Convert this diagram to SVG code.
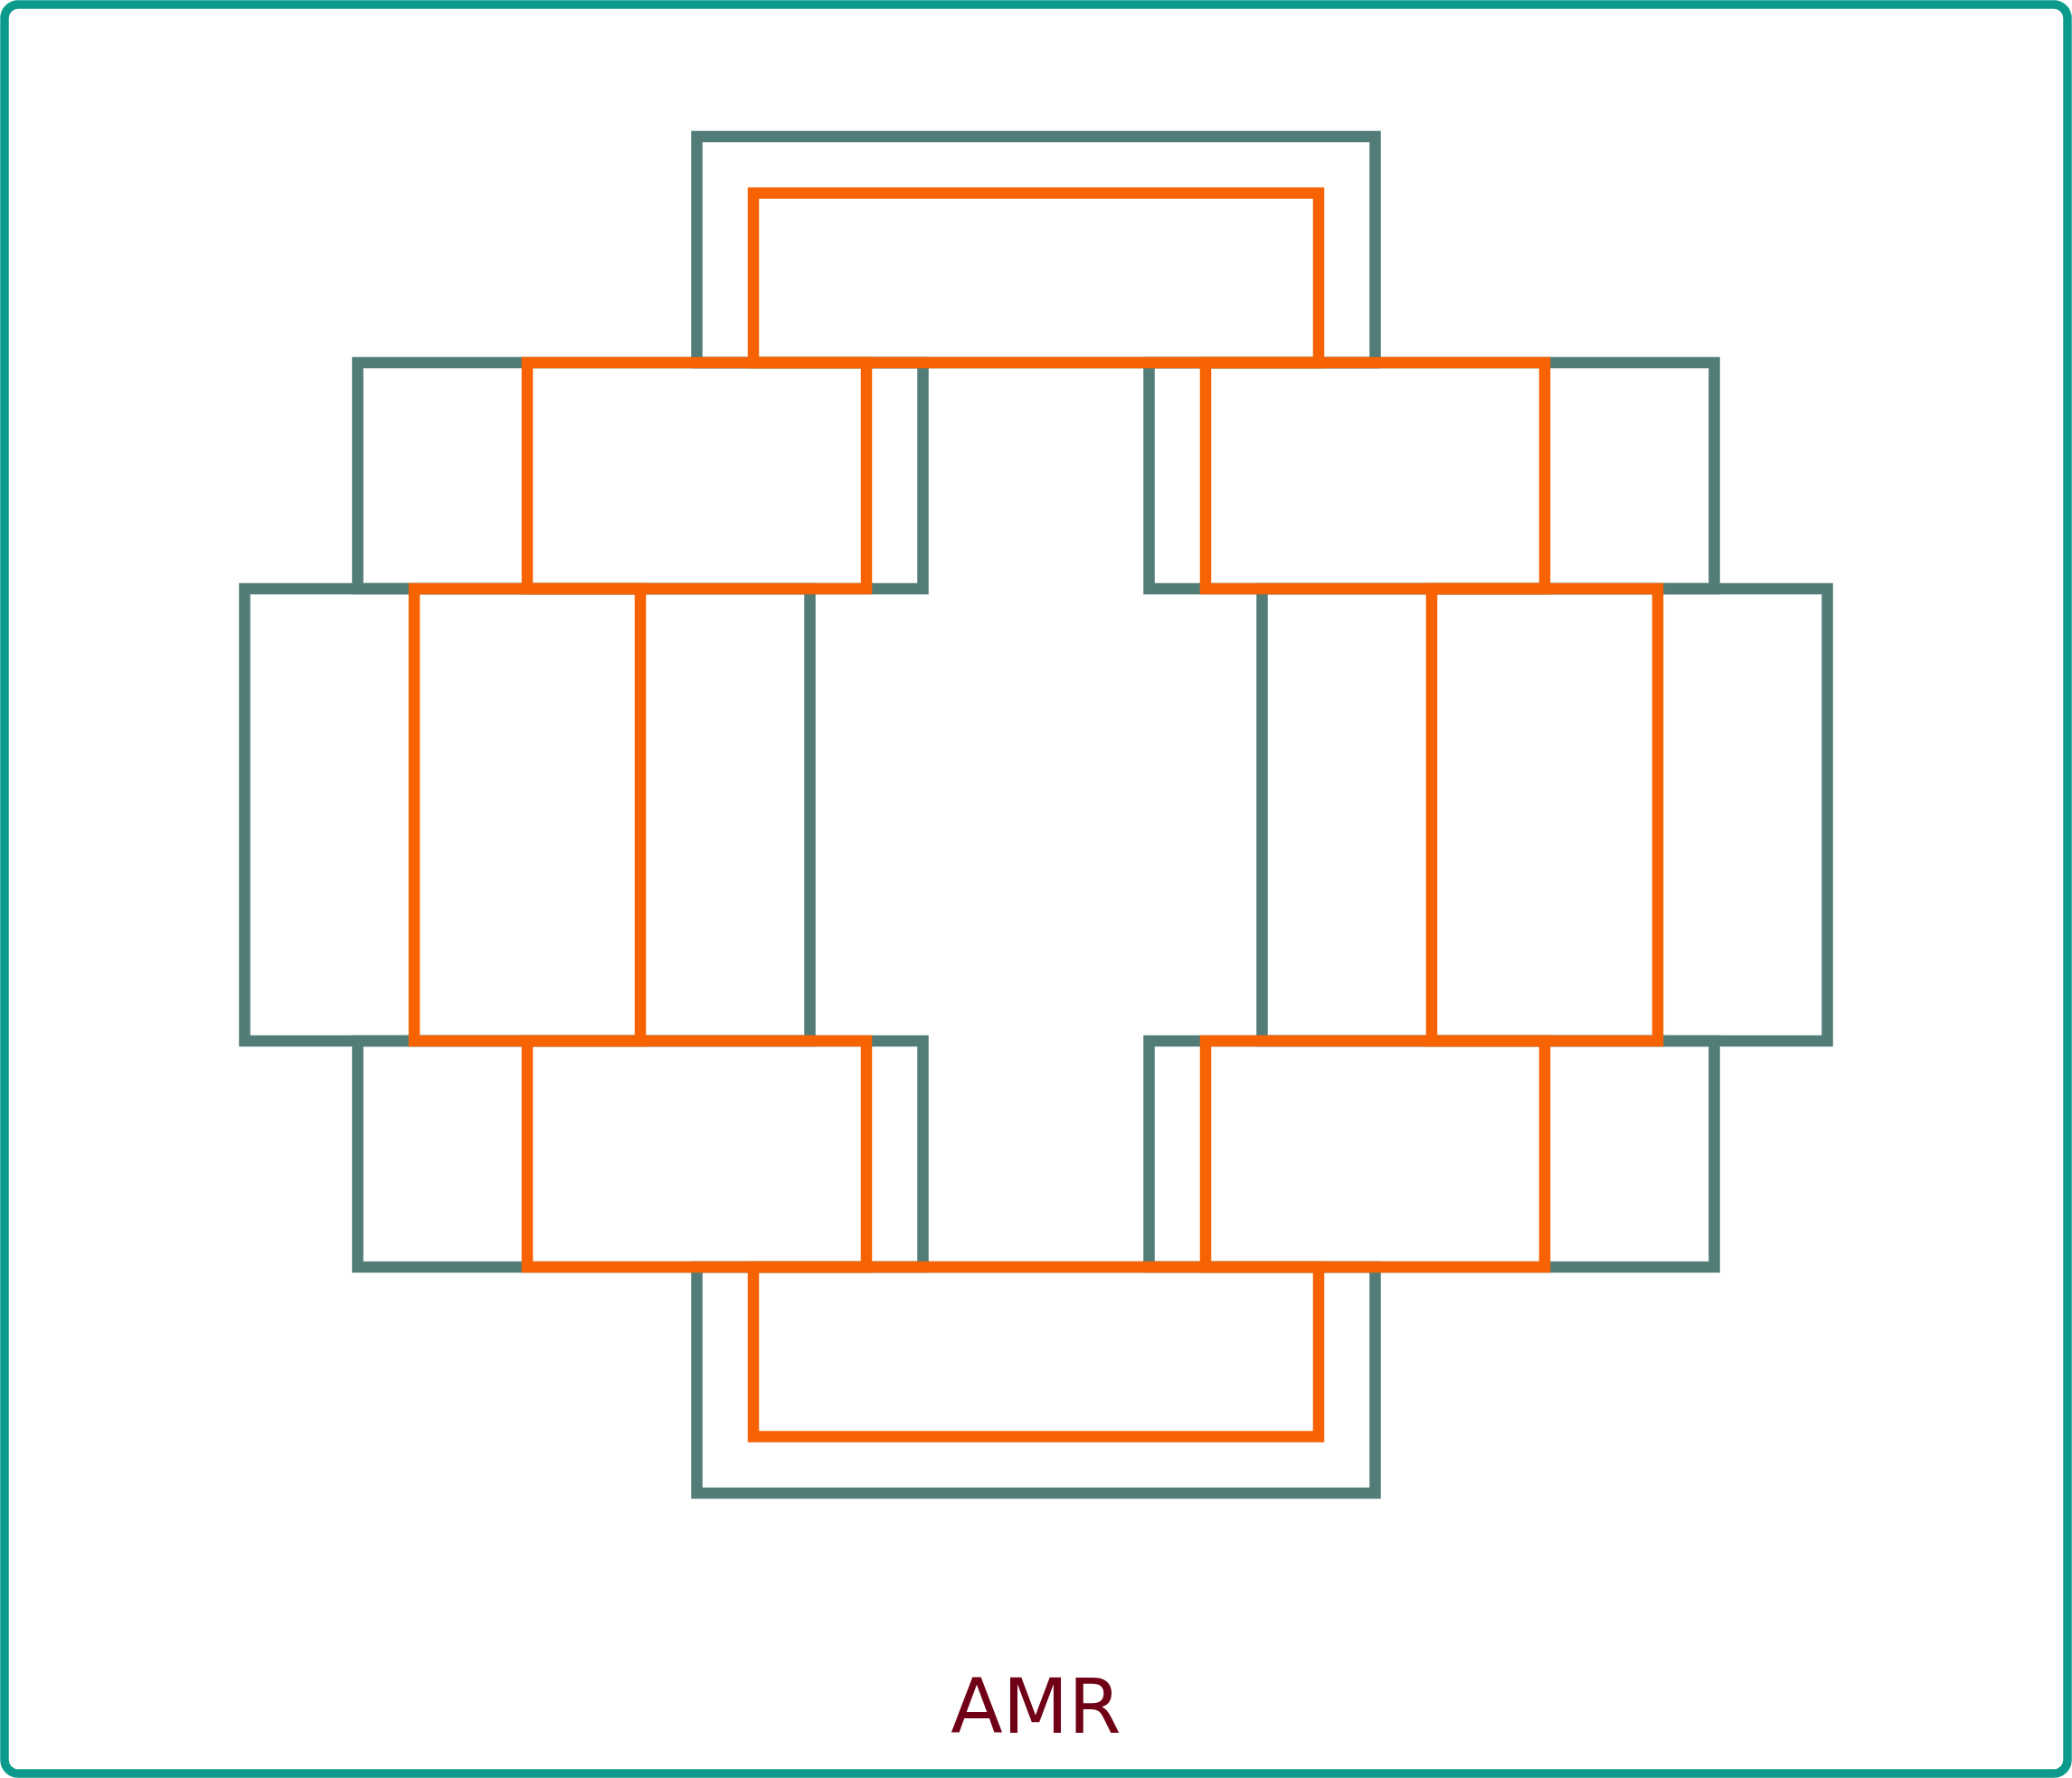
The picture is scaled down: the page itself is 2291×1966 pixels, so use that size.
<svg xmlns="http://www.w3.org/2000/svg" width="2291" height="1966" viewBox="0 0 2291 1966">
<style>
.g{fill:none;stroke:#527c77;stroke-width:12.5;stroke-linejoin:miter}
.o{fill:none;stroke:#f76303;stroke-width:12.5;stroke-linejoin:miter}
.lbl{font-family:"DejaVu Sans",sans-serif;font-size:84px;fill:#700016;text-anchor:middle}
</style>
<rect x="0" y="0" width="2291" height="1966" fill="#ffffff"/>
<rect id="frame" x="5" y="5" width="2281" height="1956" rx="15" ry="15" fill="none" stroke="#0b9a8b" stroke-width="9.5"/>
<g id="outer">
<g id="g-top"><rect class="g" x="770.5" y="151" width="750" height="250"/></g>
<g id="g-ul"><rect class="g" x="395.5" y="401" width="625" height="250"/></g>
<g id="g-ur"><rect class="g" x="1270.5" y="401" width="625" height="250"/></g>
<g id="g-l"><rect class="g" x="270.5" y="651" width="625" height="500"/></g>
<g id="g-r"><rect class="g" x="1395.5" y="651" width="625" height="500"/></g>
<g id="g-ll"><rect class="g" x="395.5" y="1151" width="625" height="250"/></g>
<g id="g-lr"><rect class="g" x="1270.5" y="1151" width="625" height="250"/></g>
<g id="g-bottom"><rect class="g" x="770.5" y="1401" width="750" height="250"/></g>
</g>
<g id="inner">
<g id="o-top"><rect class="o" x="833" y="213.5" width="625" height="187.5"/></g>
<g id="o-ul"><rect class="o" x="583" y="401" width="375" height="250"/></g>
<g id="o-ur"><rect class="o" x="1333" y="401" width="375" height="250"/></g>
<g id="o-l"><rect class="o" x="458" y="651" width="250" height="500"/></g>
<g id="o-r"><rect class="o" x="1583" y="651" width="250" height="500"/></g>
<g id="o-ll"><rect class="o" x="583" y="1151" width="375" height="250"/></g>
<g id="o-lr"><rect class="o" x="1333" y="1151" width="375" height="250"/></g>
<g id="o-bottom"><rect class="o" x="833" y="1401" width="625" height="187.5"/></g>
</g>
<g id="label"><text class="lbl" x="1145.5" y="1916">AMR</text></g>
</svg>
